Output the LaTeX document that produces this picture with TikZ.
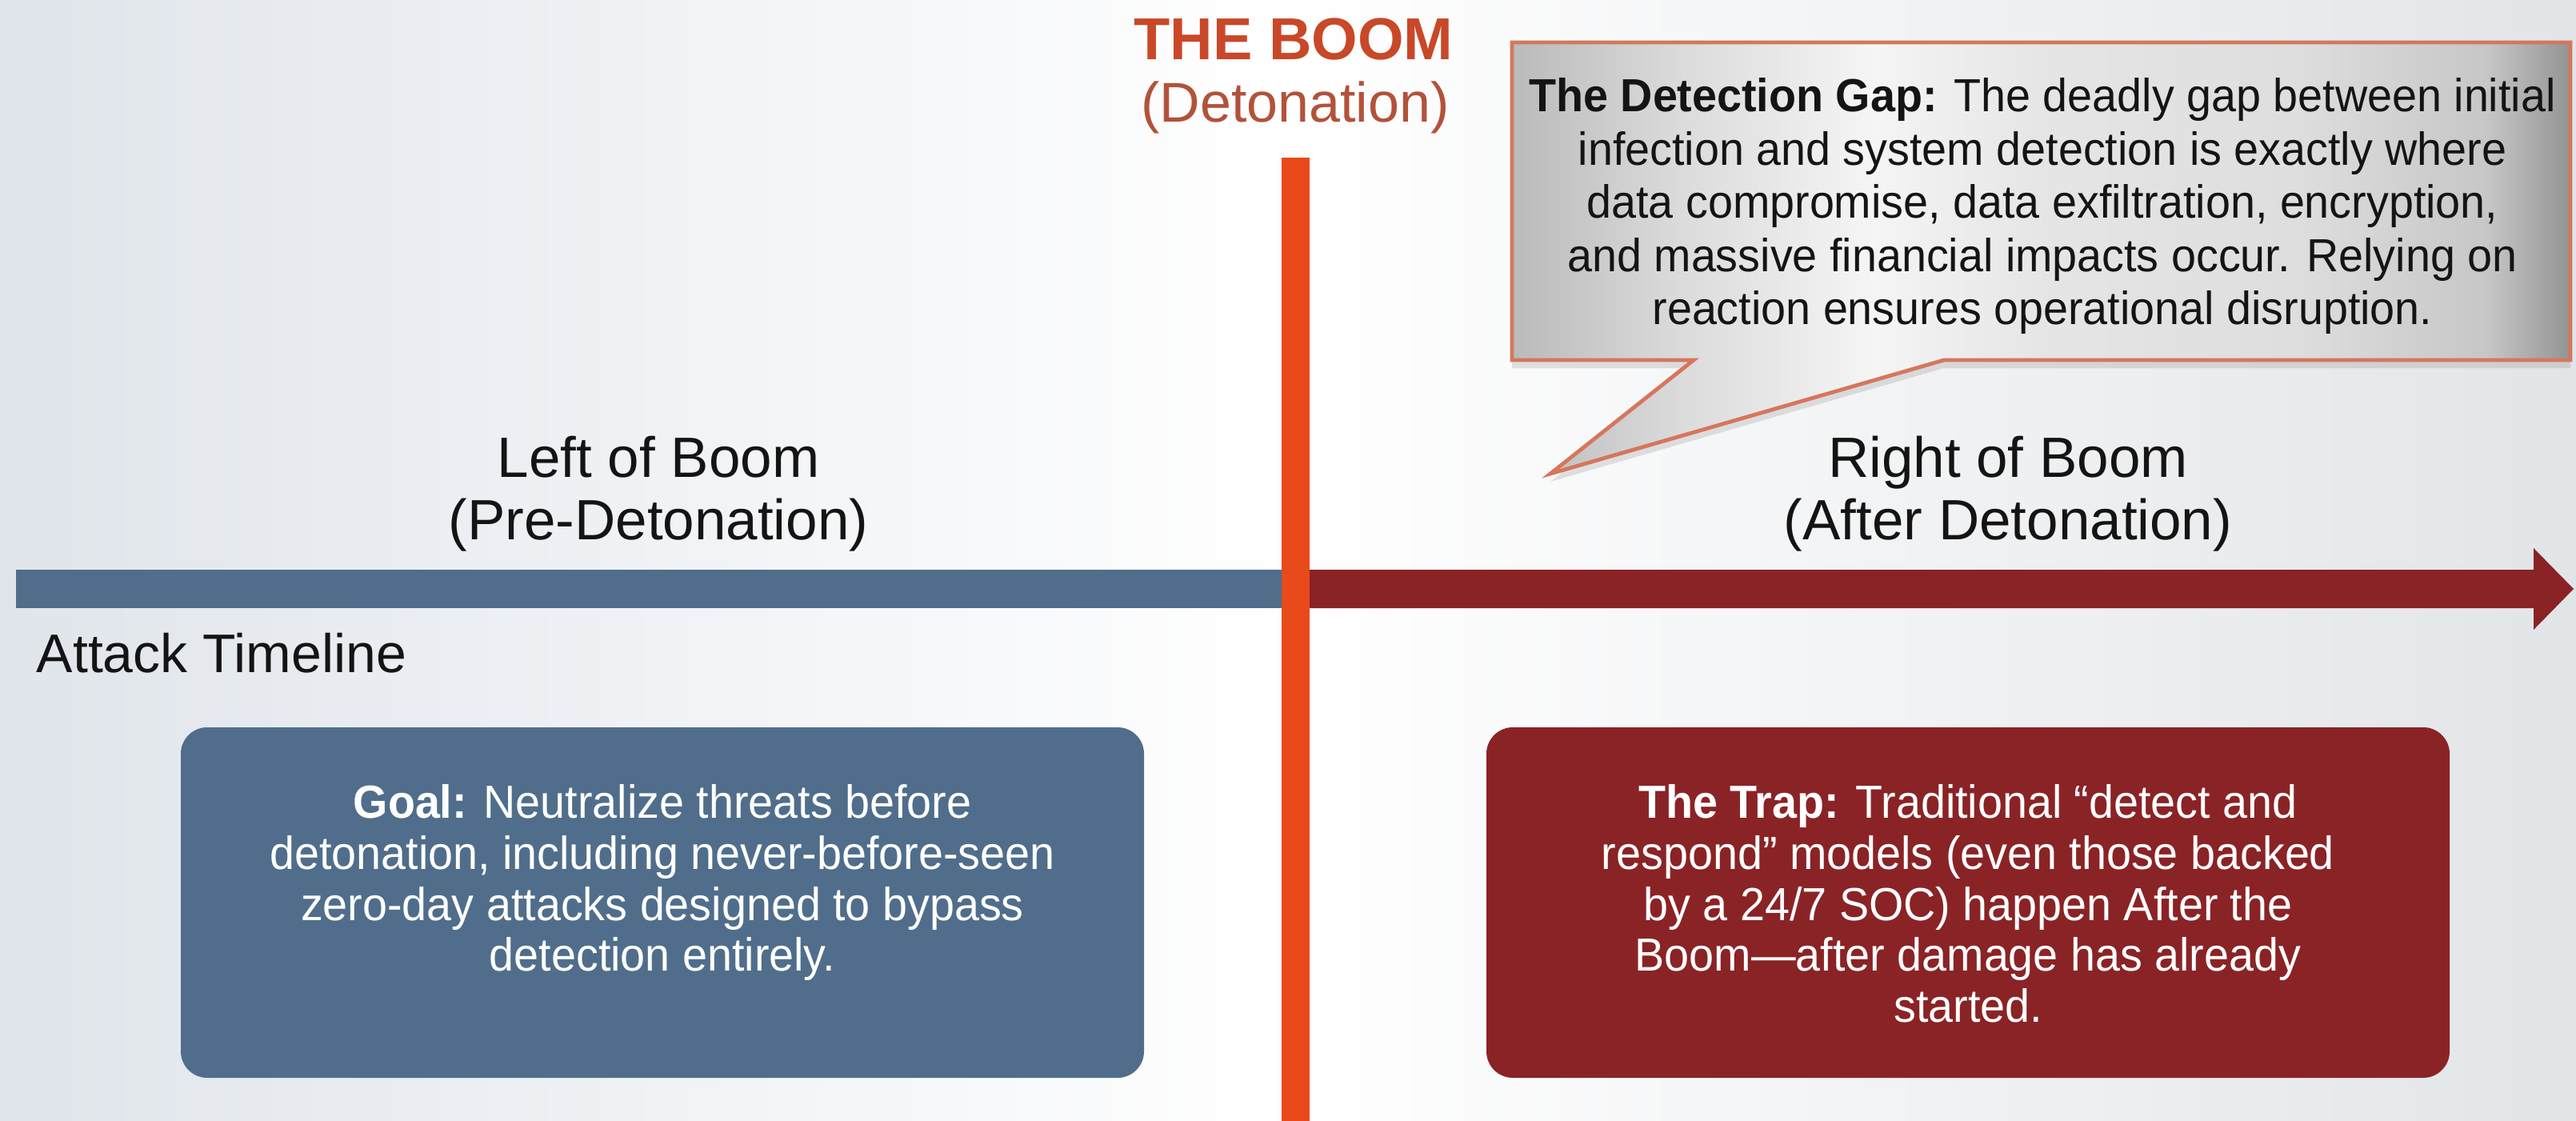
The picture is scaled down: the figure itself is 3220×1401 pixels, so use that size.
\documentclass[tikz,border=0pt]{standalone}
\usepackage{fontspec}
\setmainfont{Liberation Sans}
\newfontfamily\bodyfont[FakeStretch=0.96]{Liberation Sans}
\usetikzlibrary{shadows}

\definecolor{bluebar}{RGB}{80,110,139}
\definecolor{redbar}{RGB}{138,35,38}
\definecolor{boomline}{RGB}{232,74,28}
\definecolor{boomtext}{RGB}{200,72,40}
\definecolor{detotext}{RGB}{178,82,58}
\definecolor{calloutedge}{RGB}{214,118,92}
\definecolor{ink}{RGB}{20,20,20}
\definecolor{bgleft}{RGB}{224,229,235}
\definecolor{bgright}{RGB}{226,229,232}

% brushed-metal fill for the speech bubble
\pgfdeclarehorizontalshading{metal}{100bp}{%
  color(0bp)=(black!27);
  color(25bp)=(black!27);
  color(33bp)=(black!14);
  color(42bp)=(black!4);
  color(50bp)=(black!10);
  color(62bp)=(black!13);
  color(71bp)=(black!22);
  color(75bp)=(black!42);
  color(100bp)=(black!42)}

\tikzset{
  panel/.style={rounded corners=8.25pt, minimum width=301pt, minimum height=109.5pt, inner sep=0pt},
  phase/.style={font=\fontsize{17.75}{21}\selectfont, text=ink, anchor=base, inner sep=0pt},
  paneltext/.style={font=\bodyfont\fontsize{14.5}{15.9}\selectfont, text=white, align=center, anchor=north, inner sep=0pt},
  bubbletext/.style={font=\bodyfont\fontsize{14.5}{16.6}\selectfont, text=ink, align=center, anchor=north, inner sep=0pt},
}

\begin{document}
\begin{tikzpicture}[x=0.25pt, y=-0.25pt]
\useasboundingbox (0,0) rectangle (3220,1401);

% backdrop
\shade[left color=bgleft, right color=bgright, middle color=white] (0,0) rectangle (3220,1401);

% attack timeline
\coordinate (tlstart) at (20,736);
\coordinate (boom) at (1619,736);
\coordinate (tlend) at (3217,736);
\fill[bluebar] (tlstart) ++(0,-24) rectangle ([yshift=-6pt]boom);
\fill[redbar] (boom) ++(0,-24) -- (3167,712) -- (3167,685) -- (tlend)
  -- (3167,787) -- (3167,760) -- (1619,760) -- cycle;

% the detonation line
\fill[boomline] (1602,197) rectangle (1637,1401);

% heading
\node[font=\bfseries\fontsize{18.5}{22}\selectfont, text=boomtext, anchor=base, inner sep=0pt] (boomtitle) at (1617,75) {THE BOOM};
\node[font=\fontsize{17.5}{21}\selectfont, text=detotext, anchor=base, inner sep=0pt] (boomsub) at (1619,152) {(Detonation)};

% phase labels
\node[phase] (leftA) at (823,596) {Left of Boom};
\node[phase] (leftB) at (823,674) {(Pre-Detonation)};
\node[phase] (rightA) at (2510,596) {Right of Boom};
\node[phase] (rightB) at (2510,674) {(After Detonation)};
\node[font=\fontsize{17}{20}\selectfont, text=ink, anchor=base west, inner sep=0pt] (timeline) at (45,840) {Attack Timeline};

% speech bubble
\filldraw[shading=metal, draw=calloutedge, line width=1.2pt, line join=miter,
  drop shadow={opacity=0.22, shadow xshift=0pt, shadow yshift=-2.5pt}]
  (1890,53) -- (3213,53) -- (3213,450) -- (2430,450) -- (1938,592)
  -- (2117,450) -- (1890,450) -- cycle;
\node[bubbletext] (gap) at (2553,97) {%
  \textbf{The Detection Gap:} The deadly gap between initial\\
  infection and system detection is exactly where\\
  data compromise, data exfiltration, encryption,\\
  and massive financial impacts occur. Relying on\\
  reaction ensures operational disruption.};

% panels
\node[panel, fill=bluebar] (goalbox) at (828,1128) {};
\node[paneltext] (goal) at (828,980) {%
  \textbf{Goal:} Neutralize threats before\\
  detonation, including never-before-seen\\
  zero-day attacks designed to bypass\\
  detection entirely.};

\node[panel, fill=redbar] (trapbox) at (2460,1128) {};
\node[paneltext] (trap) at (2460,980) {%
  \textbf{The Trap:} Traditional “detect and\\
  respond” models (even those backed\\
  by a 24/7 SOC) happen After the\\
  Boom—after damage has already\\
  started.};
\end{tikzpicture}
\end{document}
